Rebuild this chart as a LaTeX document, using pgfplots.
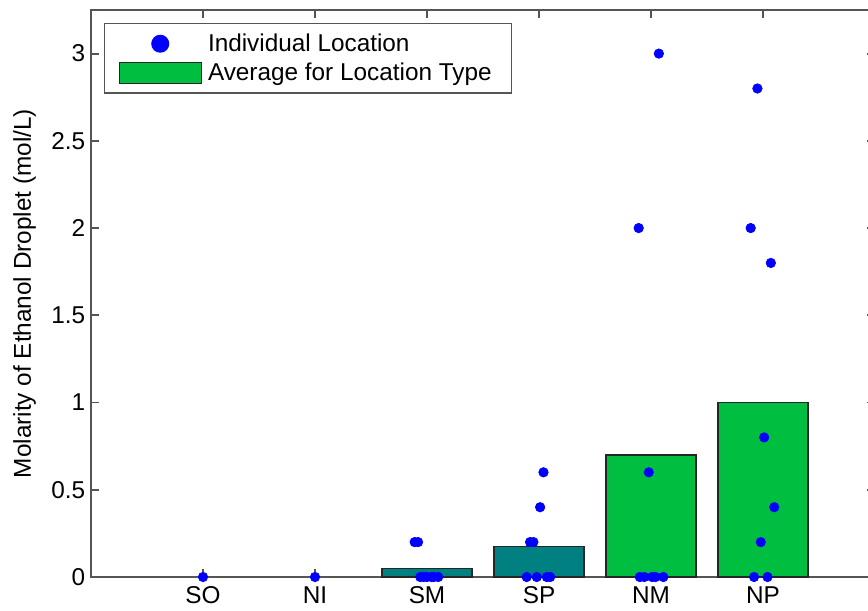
\documentclass[border=0pt]{standalone}
\usepackage{fontspec}
\setmainfont{Liberation Sans}
\usepackage{pgfplots}
\pgfplotsset{compat=1.18}
\usepackage{pgfplotstable}

\definecolor{barteal}{RGB}{0,128,128}
\definecolor{bargreen}{RGB}{0,190,64}
\definecolor{axisgray}{RGB}{85,85,85}

% individual measurements, jittered around their category position
\pgfplotstableread{
x     y
1.00  0
2.00  0
2.89  0.2
2.92  0.2
2.94  0
2.97  0
3.00  0
3.04  0
3.06  0
3.10  0
3.89  0
3.92  0.2
3.95  0.2
3.98  0
4.01  0.4
4.04  0.6
4.07  0
4.10  0
4.89  2.0
4.90  0
4.94  0
4.98  0.6
5.01  0
5.04  0
5.07  3.0
5.11  0
5.89  2.0
5.92  0
5.95  2.8
5.98  0.2
6.01  0.8
6.04  0
6.07  1.8
6.10  0.4
}\points

% averages per location type
\pgfplotstableread{
x  y
3  0.05
4  0.175
}\avgsouth
\pgfplotstableread{
x  y
5  0.7
6  1.0
}\avgnorth

\newcommand{\chartfont}{\fontsize{14.6}{17.5}\selectfont}

\begin{document}
\begin{tikzpicture}
\begin{axis}[
  name=ax,
  scale only axis,
  width=470.4pt, height=340.2pt,
  xmin=0, xmax=7, ymin=0, ymax=3.25,
  xtick={1,2,3,4,5,6},
  xticklabels={SO,NI,SM,SP,NM,NP},
  ytick={0,0.5,1,1.5,2,2.5,3},
  yticklabels={0,0.5,1,1.5,2,2.5,3},
  tick pos=both,
  tick align=inside,
  major tick length=4.8pt,
  axis line style={axisgray, line width=1.1pt},
  every tick/.style={axisgray, line width=1.1pt},
  tick label style={font=\chartfont, black},
  xticklabel style={yshift=-2.4pt},
  label style={font=\chartfont},
  ylabel={Molarity of Ethanol Droplet (mol/L)},
  ylabel style={at={([xshift=-46.8pt]axis description cs:0,0.5)}, anchor=north, inner sep=0pt},
  legend style={
    at={(axis description cs:0,1)}, anchor=north west,
    xshift=7.8pt, yshift=-7.8pt,
    draw=axisgray, line width=0.8pt,
    inner xsep=8.3pt, inner ysep=3.3pt,
    font=\chartfont,
    nodes={inner xsep=3.6pt, inner ysep=2.7pt},
    legend cell align=left,
  },
  reverse legend,
]
\addplot[ybar, bar shift=0pt, bar width=0.8, fill=barteal, draw=black!85, line width=0.9pt, forget plot]
  table[x=x, y=y] {\avgsouth};
\addplot[ybar, bar shift=0pt, bar width=0.8, fill=bargreen, draw=black!85, line width=0.9pt,
  legend image code/.code={\draw[fill=bargreen, draw=black!85, line width=0.9pt] (0pt,-6.3pt) rectangle (49.2pt,6.3pt);}]
  table[x=x, y=y] {\avgnorth};
\addlegendentry{Average for Location Type}
\addplot[only marks, mark=*, mark size=2.85pt, mark options={draw=blue, fill=blue},
  legend image code/.code={\path[draw=none, fill=none] (0pt,-6.3pt) rectangle (49.2pt,6.3pt); \fill[blue] (24.6pt,0pt) circle[radius=5pt];}]
  table[x=x, y=y] {\points};
\addlegendentry{Individual Location}
\end{axis}
\pgfresetboundingbox
\path[use as bounding box] ([xshift=-54.6pt, yshift=-19.8pt]ax.south west) rectangle ([xshift=-4.2pt, yshift=6pt]ax.north east);
\end{tikzpicture}
\end{document}
